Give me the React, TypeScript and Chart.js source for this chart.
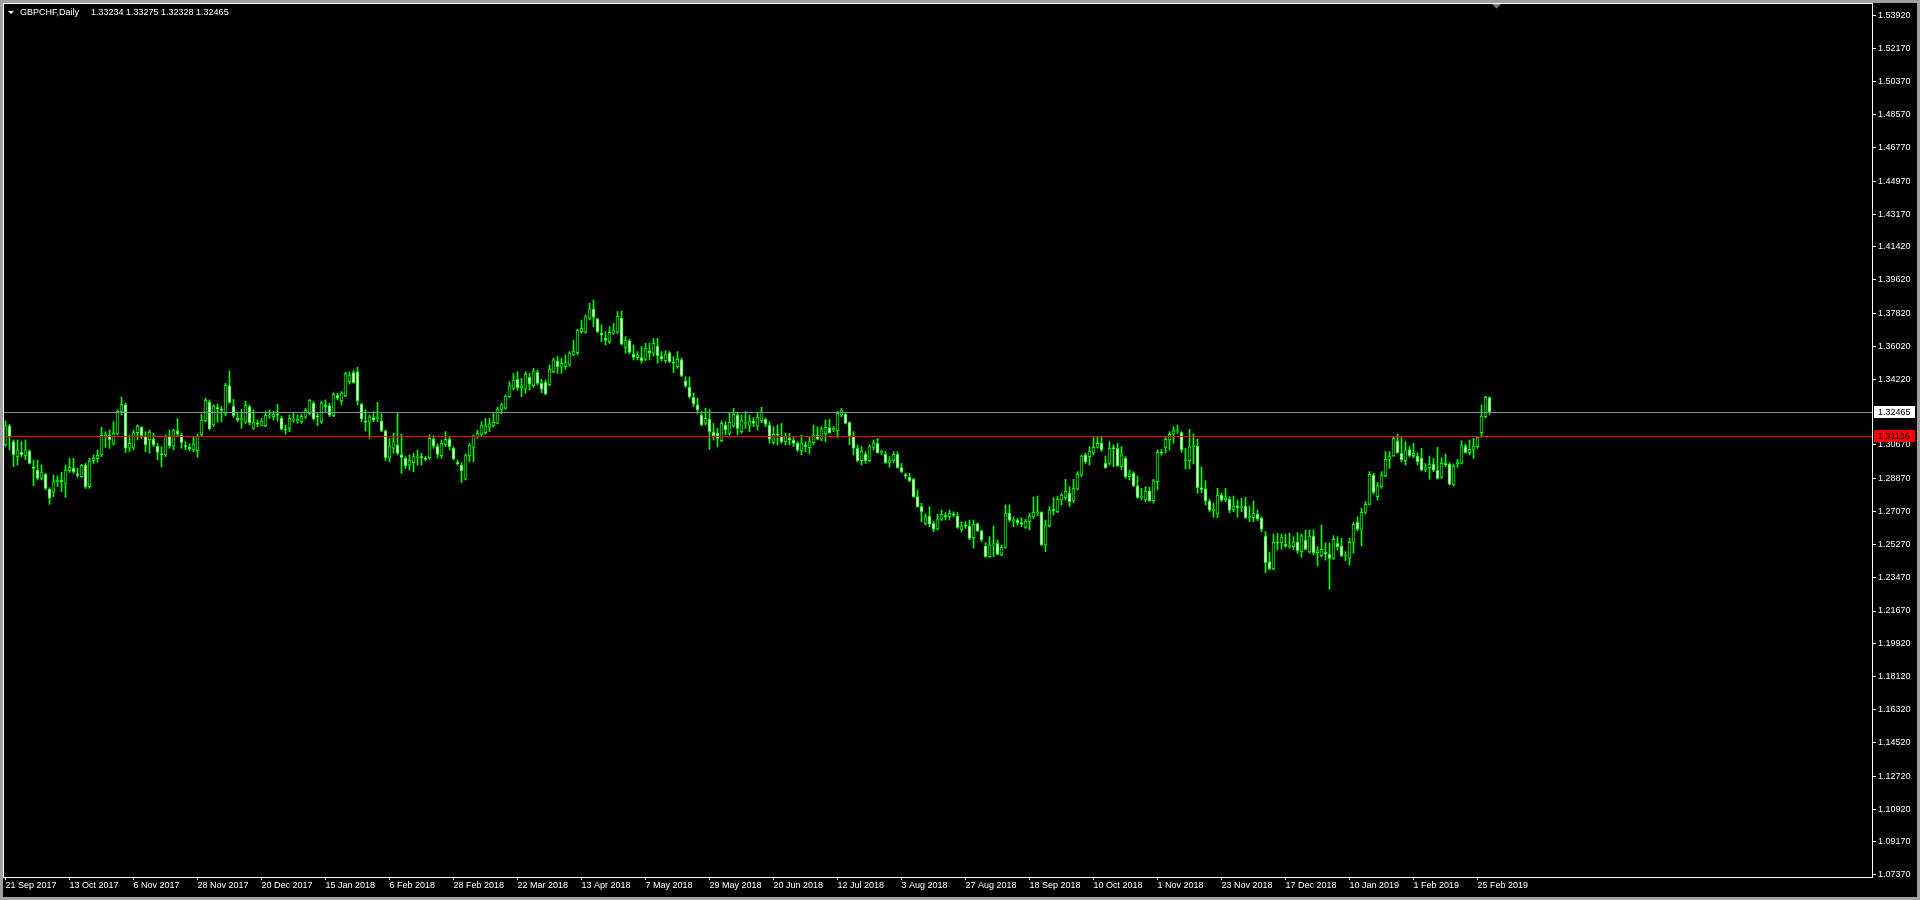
import React, { useEffect, useRef } from 'react';
import { Chart, registerables } from 'chart.js';

Chart.register(...registerables);

const symbolTitle = 'GBPCHF,Daily';
const lastBarQuote = ['1.33234', '1.33275', '1.32328', '1.32465'];
const bidPrice = 1.32465;
const hLinePrice = 1.31136;
const barsPerDateLabel = 16;

const dateLabels = [
  '21 Sep 2017', '13 Oct 2017', '6 Nov 2017', '28 Nov 2017', '20 Dec 2017', '15 Jan 2018',
  '6 Feb 2018', '28 Feb 2018', '22 Mar 2018', '13 Apr 2018', '7 May 2018', '29 May 2018',
  '20 Jun 2018', '12 Jul 2018', '3 Aug 2018', '27 Aug 2018', '18 Sep 2018', '10 Oct 2018',
  '1 Nov 2018', '23 Nov 2018', '17 Dec 2018', '10 Jan 2019', '1 Feb 2019', '25 Feb 2019',
];

const priceTicks = [
  1.5392, 1.5217, 1.5037, 1.4857, 1.4677, 1.4497, 1.4317, 1.4142, 1.3962, 1.3782, 1.3602,
  1.3422, 1.3067, 1.2887, 1.2707, 1.2527, 1.2347, 1.2167, 1.1992, 1.1812, 1.1632, 1.1452,
  1.1272, 1.1092, 1.0917, 1.0737,
];

const opens = [
  1.3067,1.3170,1.3085,1.3004,1.3027,1.3009,1.3034,1.2949,1.2931,1.2886,
  1.2908,1.2828,1.2810,1.2868,1.2875,1.2859,1.2928,1.2942,1.2906,1.2895,
  1.2957,1.2841,1.2982,1.2993,1.3013,1.3117,1.3119,1.3076,1.3125,1.3249,
  1.3284,1.3049,1.3054,1.3134,1.3163,1.3112,1.3094,1.3099,1.3061,1.3018,
  1.3013,1.3112,1.3061,1.3143,1.3121,1.3061,1.3054,1.3040,1.3036,1.3123,
  1.3199,1.3300,1.3175,1.3267,1.3260,1.3235,1.3388,1.3278,1.3211,1.3202,
  1.3190,1.3275,1.3157,1.3182,1.3173,1.3172,1.3224,1.3220,1.3231,1.3211,
  1.3152,1.3157,1.3202,1.3197,1.3193,1.3217,1.3238,1.3293,1.3222,1.3193,
  1.3280,1.3280,1.3226,1.3334,1.3307,1.3334,1.3410,1.3459,1.3463,1.3287,
  1.3195,1.3190,1.3215,1.3210,1.3197,1.3143,1.2995,1.3049,1.3067,1.3013,
  1.2995,1.2958,1.2971,1.3000,1.3004,1.2995,1.2998,1.3099,1.3061,1.3009,
  1.3070,1.3098,1.3049,1.2971,1.2958,1.2882,1.3009,1.3054,1.3112,1.3121,
  1.3134,1.3163,1.3172,1.3184,1.3257,1.3266,1.3329,1.3374,1.3423,1.3378,
  1.3370,1.3434,1.3388,1.3461,1.3401,1.3407,1.3392,1.3464,1.3522,1.3488,
  1.3491,1.3500,1.3555,1.3567,1.3681,1.3678,1.3753,1.3802,1.3750,1.3672,
  1.3645,1.3627,1.3672,1.3678,1.3753,1.3596,1.3631,1.3560,1.3540,1.3540,
  1.3531,1.3576,1.3564,1.3603,1.3549,1.3524,1.3567,1.3513,1.3491,1.3528,
  1.3414,1.3379,1.3325,1.3284,1.3229,1.3184,1.3206,1.3136,1.3130,1.3090,
  1.3175,1.3130,1.3170,1.3229,1.3139,1.3184,1.3170,1.3197,1.3170,1.3197,
  1.3206,1.3175,1.3079,1.3125,1.3112,1.3085,1.3103,1.3094,1.3076,1.3034,
  1.3067,1.3052,1.3079,1.3121,1.3099,1.3130,1.3161,1.3148,1.3145,1.3229,
  1.3235,1.3188,1.3112,1.3049,1.2982,1.3018,1.2982,1.3054,1.3076,1.3027,
  1.3016,1.2973,1.2980,1.3016,1.2944,1.2904,1.2892,1.2881,1.2787,1.2733,
  1.2642,1.2682,1.2642,1.2610,1.2664,1.2684,1.2678,1.2693,1.2682,1.2606,
  1.2631,1.2628,1.2565,1.2639,1.2601,1.2519,1.2461,1.2525,1.2534,1.2471,
  1.2512,1.2696,1.2657,1.2660,1.2646,1.2620,1.2651,1.2675,1.2700,1.2702,
  1.2525,1.2629,1.2714,1.2705,1.2769,1.2781,1.2805,1.2763,1.2828,1.2904,
  1.3013,1.3004,1.3022,1.3054,1.3076,1.2967,1.2967,1.3049,1.3049,1.2949,
  1.2995,1.2895,1.2913,1.2846,1.2783,1.2769,1.2817,1.2765,1.2868,1.3027,
  1.3054,1.3094,1.3125,1.3143,1.3134,1.2982,1.2982,1.3058,1.3061,1.2835,
  1.2830,1.2763,1.2711,1.2693,1.2796,1.2769,1.2774,1.2718,1.2736,1.2727,
  1.2736,1.2675,1.2673,1.2693,1.2669,1.2573,1.2433,1.2395,1.2539,1.2537,
  1.2530,1.2517,1.2516,1.2541,1.2489,1.2552,1.2487,1.2573,1.2483,1.2467,
  1.2485,1.2476,1.2452,1.2534,1.2519,1.2465,1.2452,1.2539,1.2648,1.2610,
  1.2702,1.2745,1.2904,1.2787,1.2841,1.2901,1.2989,1.3007,1.3088,1.3022,
  1.2982,1.3040,1.3009,1.3007,1.2995,1.2935,1.2944,1.2964,1.2931,1.2892,
  1.2966,1.2964,1.2850,1.2964,1.2967,1.3061,1.3025,1.3043,1.3058,1.3134,
  1.3220,1.33234,
];

const highs = [
  1.3197,1.3179,1.3094,1.3094,1.3085,1.3094,1.3040,1.2986,1.2986,1.2958,
  1.2913,1.2835,1.2904,1.2899,1.2919,1.2958,1.2995,1.2995,1.2940,1.2962,
  1.2967,1.2995,1.3013,1.3040,1.3163,1.3139,1.3148,1.3193,1.3257,1.3325,
  1.3293,1.3121,1.3148,1.3175,1.3166,1.3139,1.3148,1.3130,1.3076,1.3058,
  1.3121,1.3148,1.3152,1.3210,1.3130,1.3085,1.3072,1.3112,1.3126,1.3235,
  1.3320,1.3311,1.3284,1.3289,1.3275,1.3401,1.3468,1.3314,1.3242,1.3260,
  1.3305,1.3284,1.3257,1.3202,1.3211,1.3248,1.3257,1.3251,1.3287,1.3224,
  1.3175,1.3229,1.3242,1.3229,1.3235,1.3266,1.3314,1.3302,1.3238,1.3305,
  1.3311,1.3293,1.3350,1.3347,1.3356,1.3461,1.3464,1.3470,1.3488,1.3293,
  1.3257,1.3229,1.3248,1.3298,1.3235,1.3148,1.3103,1.3130,1.3242,1.3126,
  1.3004,1.3013,1.3022,1.3040,1.3022,1.3004,1.3121,1.3117,1.3072,1.3094,
  1.3139,1.3112,1.3058,1.2986,1.2971,1.3018,1.3076,1.3121,1.3148,1.3193,
  1.3211,1.3211,1.3238,1.3271,1.3293,1.3338,1.3410,1.3455,1.3464,1.3428,
  1.3464,1.3455,1.3482,1.3473,1.3423,1.3419,1.3500,1.3537,1.3546,1.3537,
  1.3555,1.3573,1.3636,1.3694,1.3744,1.3772,1.3835,1.3853,1.3753,1.3717,
  1.3681,1.3708,1.3726,1.3790,1.3793,1.3654,1.3640,1.3609,1.3573,1.3600,
  1.3618,1.3618,1.3645,1.3645,1.3573,1.3578,1.3573,1.3546,1.3573,1.3537,
  1.3437,1.3434,1.3347,1.3320,1.3248,1.3266,1.3257,1.3184,1.3157,1.3197,
  1.3193,1.3242,1.3266,1.3242,1.3229,1.3248,1.3229,1.3215,1.3238,1.3271,
  1.3211,1.3193,1.3166,1.3175,1.3184,1.3130,1.3130,1.3112,1.3085,1.3121,
  1.3085,1.3112,1.3175,1.3166,1.3166,1.3202,1.3206,1.3166,1.3248,1.3266,
  1.3238,1.3193,1.3139,1.3067,1.3058,1.3031,1.3067,1.3094,1.3103,1.3040,
  1.3031,1.3004,1.3031,1.3031,1.2967,1.2913,1.2913,1.2886,1.2823,1.2751,
  1.2693,1.2733,1.2651,1.2693,1.2714,1.2700,1.2714,1.2705,1.2700,1.2651,
  1.2651,1.2660,1.2660,1.2646,1.2606,1.2537,1.2570,1.2628,1.2552,1.2525,
  1.2742,1.2742,1.2678,1.2669,1.2673,1.2664,1.2696,1.2783,1.2790,1.2705,
  1.2660,1.2733,1.2781,1.2787,1.2805,1.2881,1.2841,1.2881,1.2922,1.3013,
  1.3022,1.3058,1.3112,1.3112,1.3112,1.3007,1.3085,1.3067,1.3076,1.3058,
  1.3004,1.2931,1.2922,1.2899,1.2832,1.2841,1.2837,1.2881,1.3040,1.3043,
  1.3112,1.3139,1.3166,1.3175,1.3139,1.3049,1.3152,1.3126,1.3098,1.2949,
  1.2873,1.2772,1.2751,1.2832,1.2805,1.2832,1.2787,1.2790,1.2769,1.2778,
  1.2783,1.2736,1.2763,1.2714,1.2678,1.2597,1.2485,1.2584,1.2588,1.2584,
  1.2584,1.2588,1.2570,1.2592,1.2584,1.2606,1.2606,1.2606,1.2516,1.2633,
  1.2537,1.2537,1.2575,1.2570,1.2561,1.2489,1.2561,1.2646,1.2678,1.2723,
  1.2760,1.2922,1.2913,1.2863,1.2922,1.3031,1.3031,1.3112,1.3126,1.3107,
  1.3085,1.3058,1.3076,1.3025,1.3049,1.2967,1.3007,1.2995,1.3054,1.2998,
  1.3018,1.2971,1.2964,1.2989,1.3090,1.3072,1.3094,1.3103,1.3112,1.3284,
  1.3332,1.33275,
];

const lows = [
  1.3061,1.3040,1.2949,1.2958,1.3004,1.2986,1.2964,1.2846,1.2877,1.2877,
  1.2823,1.2745,1.2787,1.2841,1.2814,1.2783,1.2917,1.2913,1.2892,1.2892,
  1.2832,1.2832,1.2967,1.2973,1.3004,1.3054,1.3049,1.3067,1.3121,1.3229,
  1.3025,1.3031,1.3040,1.3094,1.3103,1.3031,1.3022,1.3058,1.2986,1.2949,
  1.3004,1.3049,1.3040,1.3112,1.3049,1.3040,1.3036,1.3031,1.3000,1.3112,
  1.3193,1.3148,1.3166,1.3190,1.3193,1.3224,1.3293,1.3217,1.3193,1.3157,
  1.3184,1.3175,1.3152,1.3166,1.3170,1.3166,1.3211,1.3202,1.3197,1.3148,
  1.3126,1.3139,1.3190,1.3184,1.3184,1.3211,1.3229,1.3202,1.3172,1.3184,
  1.3242,1.3220,1.3220,1.3311,1.3284,1.3329,1.3397,1.3401,1.3284,1.3193,
  1.3143,1.3103,1.3193,1.3193,1.3139,1.2982,1.2976,1.3022,1.3013,1.2913,
  1.2940,1.2931,1.2922,1.2958,1.2958,1.2982,1.2989,1.3049,1.2995,1.2995,
  1.3058,1.3040,1.2986,1.2958,1.2863,1.2877,1.2976,1.2976,1.3103,1.3112,
  1.3126,1.3139,1.3163,1.3181,1.3235,1.3260,1.3325,1.3365,1.3365,1.3329,
  1.3347,1.3365,1.3379,1.3392,1.3350,1.3338,1.3388,1.3459,1.3455,1.3455,
  1.3477,1.3495,1.3551,1.3555,1.3672,1.3672,1.3744,1.3708,1.3676,1.3627,
  1.3609,1.3618,1.3667,1.3672,1.3609,1.3564,1.3560,1.3528,1.3528,1.3510,
  1.3524,1.3528,1.3549,1.3510,1.3524,1.3513,1.3513,1.3459,1.3482,1.3437,
  1.3379,1.3320,1.3275,1.3238,1.3170,1.3175,1.3043,1.3094,1.3058,1.3085,
  1.3121,1.3121,1.3163,1.3121,1.3130,1.3157,1.3139,1.3166,1.3148,1.3188,
  1.3166,1.3076,1.3072,1.3067,1.3076,1.3067,1.3067,1.3058,1.3031,1.3013,
  1.3031,1.3018,1.3067,1.3094,1.3090,1.3085,1.3130,1.3139,1.3107,1.3220,
  1.3181,1.3067,1.3013,1.2976,1.2958,1.2967,1.2976,1.3040,1.3022,1.3013,
  1.2967,1.2946,1.2971,1.2940,1.2917,1.2886,1.2868,1.2783,1.2729,1.2651,
  1.2633,1.2624,1.2597,1.2606,1.2657,1.2660,1.2660,1.2678,1.2615,1.2597,
  1.2615,1.2552,1.2507,1.2597,1.2543,1.2458,1.2458,1.2461,1.2471,1.2467,
  1.2507,1.2651,1.2624,1.2633,1.2624,1.2615,1.2606,1.2669,1.2684,1.2521,
  1.2489,1.2624,1.2687,1.2700,1.2742,1.2769,1.2733,1.2754,1.2823,1.2895,
  1.2967,1.2958,1.3013,1.3049,1.3031,1.2940,1.2958,1.2949,1.2949,1.2935,
  1.2886,1.2877,1.2841,1.2778,1.2769,1.2760,1.2760,1.2751,1.2823,1.3013,
  1.3022,1.3040,1.3076,1.3130,1.3027,1.2937,1.2937,1.2964,1.2805,1.2808,
  1.2742,1.2705,1.2675,1.2673,1.2760,1.2760,1.2700,1.2705,1.2675,1.2705,
  1.2669,1.2651,1.2651,1.2657,1.2597,1.2375,1.2389,1.2389,1.2498,1.2501,
  1.2512,1.2507,1.2501,1.2480,1.2458,1.2498,1.2480,1.2471,1.2411,1.2461,
  1.2443,1.2284,1.2447,1.2498,1.2461,1.2440,1.2416,1.2480,1.2602,1.2521,
  1.2693,1.2742,1.2801,1.2769,1.2832,1.2895,1.2940,1.3004,1.3022,1.2976,
  1.2958,1.3004,1.2998,1.2958,1.2926,1.2922,1.2882,1.2922,1.2882,1.2886,
  1.2949,1.2850,1.2845,1.2946,1.2964,1.3022,1.3013,1.2995,1.3049,1.3108,
  1.3215,1.32328,
];

const closes = [
  1.3170,1.3112,1.3013,1.3040,1.3013,1.3040,1.2967,1.2940,1.2886,1.2917,
  1.2832,1.2778,1.2868,1.2875,1.2868,1.2931,1.2946,1.2922,1.2902,1.2957,
  1.2841,1.2980,1.2996,1.3011,1.3119,1.3123,1.3094,1.3130,1.3249,1.3287,
  1.3049,1.3076,1.3134,1.3168,1.3116,1.3067,1.3137,1.3067,1.3027,1.3014,
  1.3112,1.3063,1.3145,1.3126,1.3081,1.3058,1.3047,1.3072,1.3117,1.3202,
  1.3309,1.3154,1.3278,1.3264,1.3255,1.3390,1.3298,1.3226,1.3202,1.3210,
  1.3282,1.3188,1.3191,1.3179,1.3197,1.3228,1.3226,1.3233,1.3228,1.3152,
  1.3148,1.3211,1.3205,1.3206,1.3222,1.3255,1.3309,1.3208,1.3219,1.3295,
  1.3276,1.3229,1.3341,1.3320,1.3350,1.3453,1.3443,1.3405,1.3305,1.3208,
  1.3191,1.3219,1.3202,1.3211,1.3143,1.2998,1.3061,1.3085,1.3022,1.3000,
  1.2955,1.2984,1.3004,1.3007,1.2998,1.2989,1.3103,1.3061,1.3016,1.3076,
  1.3098,1.3058,1.2991,1.2966,1.2928,1.3009,1.3067,1.3117,1.3130,1.3175,
  1.3170,1.3181,1.3190,1.3262,1.3284,1.3332,1.3387,1.3419,1.3378,1.3387,
  1.3450,1.3397,1.3468,1.3401,1.3370,1.3343,1.3477,1.3528,1.3491,1.3510,
  1.3513,1.3567,1.3576,1.3690,1.3699,1.3762,1.3804,1.3759,1.3681,1.3663,
  1.3634,1.3678,1.3690,1.3766,1.3613,1.3636,1.3569,1.3542,1.3555,1.3524,
  1.3591,1.3567,1.3618,1.3551,1.3533,1.3560,1.3519,1.3510,1.3531,1.3443,
  1.3387,1.3329,1.3289,1.3257,1.3175,1.3211,1.3139,1.3117,1.3103,1.3184,
  1.3148,1.3190,1.3235,1.3157,1.3202,1.3190,1.3197,1.3184,1.3217,1.3244,
  1.3179,1.3098,1.3125,1.3121,1.3085,1.3112,1.3094,1.3076,1.3040,1.3079,
  1.3058,1.3085,1.3121,1.3099,1.3154,1.3163,1.3134,1.3157,1.3238,1.3257,
  1.3184,1.3116,1.3049,1.2982,1.3034,1.2982,1.3058,1.3079,1.3025,1.3031,
  1.2971,1.2986,1.3016,1.2944,1.2922,1.2899,1.2873,1.2787,1.2733,1.2705,
  1.2678,1.2637,1.2610,1.2666,1.2691,1.2678,1.2696,1.2687,1.2620,1.2628,
  1.2628,1.2561,1.2637,1.2601,1.2552,1.2461,1.2525,1.2530,1.2474,1.2512,
  1.2696,1.2660,1.2660,1.2646,1.2637,1.2655,1.2682,1.2702,1.2704,1.2525,
  1.2633,1.2714,1.2711,1.2772,1.2796,1.2817,1.2760,1.2832,1.2908,1.3007,
  1.2976,1.3034,1.3054,1.3076,1.3040,1.2944,1.3049,1.3047,1.2955,1.3013,
  1.2895,1.2910,1.2846,1.2783,1.2787,1.2817,1.2765,1.2872,1.3027,1.3022,
  1.3098,1.3125,1.3143,1.3148,1.3040,1.2986,1.3058,1.3061,1.2835,1.2826,
  1.2763,1.2714,1.2720,1.2796,1.2769,1.2779,1.2714,1.2736,1.2727,1.2733,
  1.2673,1.2680,1.2696,1.2666,1.2610,1.2429,1.2395,1.2539,1.2537,1.2568,
  1.2519,1.2519,1.2541,1.2492,1.2575,1.2501,1.2573,1.2483,1.2494,1.2501,
  1.2476,1.2452,1.2555,1.2516,1.2467,1.2469,1.2539,1.2637,1.2610,1.2702,
  1.2745,1.2908,1.2810,1.2845,1.2901,1.2989,1.3007,1.3103,1.3025,1.2986,
  1.3040,1.3009,1.3022,1.2976,1.2931,1.2942,1.2964,1.2931,1.2886,1.2967,
  1.2960,1.2854,1.2953,1.2976,1.3067,1.3025,1.3043,1.3061,1.3107,1.3224,
  1.3325,1.32465,
];

const FONT = '"Liberation Sans", Arial, sans-serif';
const LIME = '#00ff00';

const mtPlugin = {
  id: 'mtDecor',
  beforeDraw(chart: any) {
    const { ctx, width, height } = chart;
    ctx.save();
    ctx.fillStyle = '#a0a0a0';
    ctx.fillRect(0, 0, width, height);
    ctx.fillStyle = '#000000';
    ctx.fillRect(3, 3, width - 6, height - 6);
    ctx.restore();
  },
  afterDatasetsDraw(chart: any) {
    const { ctx, chartArea: a } = chart;
    const ys = chart.scales.y;
    ctx.save();
    ctx.lineWidth = 1;
    const lines: [number, string][] = [[bidPrice, '#7f8fa0'], [hLinePrice, '#ff0000']];
    lines.forEach(([p, c]) => {
      const y = Math.round(ys.getPixelForValue(p)) + 0.5;
      ctx.strokeStyle = c;
      ctx.beginPath();
      ctx.moveTo(a.left, y);
      ctx.lineTo(a.right, y);
      ctx.stroke();
    });
    ctx.restore();
  },
  afterDraw(chart: any) {
    const { ctx, chartArea: a } = chart;
    const ys = chart.scales.y;
    ctx.save();
    // frame
    ctx.strokeStyle = '#ffffff';
    ctx.lineWidth = 1;
    ctx.strokeRect(Math.round(a.left) - 0.5, Math.round(a.top) - 0.5,
      Math.round(a.right - a.left) + 1, Math.round(a.bottom - a.top) + 1);
    // price boxes
    ctx.font = `9px ${FONT}`;
    ctx.textBaseline = 'middle';
    ctx.textAlign = 'left';
    const boxes: [number, string, string][] = [[bidPrice, '#ffffff', '#000000'], [hLinePrice, '#ff0000', '#000000']];
    boxes.forEach(([p, bg, fg]) => {
      const y = Math.round(ys.getPixelForValue(p));
      ctx.fillStyle = bg;
      ctx.fillRect(Math.round(a.right) + 2, y - 6, 41, 12);
      ctx.fillStyle = fg;
      ctx.fillText(p.toFixed(5), Math.round(a.right) + 6, y + 0.5);
    });
    // title
    ctx.fillStyle = '#ffffff';
    ctx.beginPath();
    ctx.moveTo(8, 11);
    ctx.lineTo(14, 11);
    ctx.lineTo(11, 14);
    ctx.closePath();
    ctx.fill();
    ctx.fillText(symbolTitle, 20, 13);
    ctx.fillText(lastBarQuote.join(' '), 91, 13);
    // chart shift marker
    ctx.fillStyle = '#808080';
    ctx.beginPath();
    ctx.moveTo(1492, 4);
    ctx.lineTo(1501, 4);
    ctx.lineTo(1496.5, 8.5);
    ctx.closePath();
    ctx.fill();
    ctx.restore();
  },
};

export default function App() {
  const ref = useRef<HTMLCanvasElement>(null);
  useEffect(() => {
    document.body.style.margin = '0';
    document.body.style.background = '#a0a0a0';
    const bodies = closes.map((c, i) => ({ x: i, y: [opens[i], c] }));
    const wicks = highs.map((h, i) => ({ x: i, y: [lows[i], h] }));
    const bodyFill = closes.map((c, i) => (c < opens[i] ? '#ffffff' : '#000000'));
    const chart = new Chart(ref.current as HTMLCanvasElement, {
      type: 'bar',
      data: {
        datasets: [
          {
            data: bodies as any,
            backgroundColor: bodyFill,
            borderColor: LIME,
            borderWidth: 1,
            borderSkipped: false,
            barThickness: 3,
            minBarLength: 1,
            grouped: false,
          } as any,
          {
            data: wicks as any,
            backgroundColor: LIME,
            borderWidth: 0,
            barThickness: 1,
            grouped: false,
          } as any,
        ],
      },
      options: {
        animation: false,
        responsive: false,
        devicePixelRatio: 1,
        events: [],
        layout: { padding: { left: 4, top: 4, right: 3, bottom: 3 } },
        plugins: { legend: { display: false }, tooltip: { enabled: false }, title: { display: false } },
        scales: {
          x: {
            type: 'linear',
            min: -0.375,
            max: 466.625,
            offset: false,
            afterBuildTicks: (s: any) => {
              s.ticks = dateLabels.map((_, k) => ({ value: k * barsPerDateLabel }));
            },
            afterFit: (s: any) => {
              s.height = 20;
              s.paddingLeft = 0;
              s.paddingRight = 0;
            },
            ticks: {
              autoSkip: false,
              maxRotation: 0,
              align: 'start',
              padding: 0,
              color: '#ffffff',
              font: { family: FONT, size: 9 },
              callback: (v: any) => dateLabels[Math.round(Number(v) / barsPerDateLabel)] ?? '',
            },
            grid: { display: true, drawOnChartArea: false, drawTicks: true, tickLength: 3, color: '#ffffff', offset: false },
            border: { display: false },
          } as any,
          y: {
            type: 'linear',
            position: 'right',
            min: 1.07253,
            max: 1.5457,
            beginAtZero: false,
            afterBuildTicks: (s: any) => {
              s.ticks = priceTicks.map((v) => ({ value: v }));
            },
            afterFit: (s: any) => {
              s.width = 45;
              s.paddingTop = 0;
              s.paddingBottom = 0;
            },
            ticks: {
              autoSkip: false,
              padding: 2,
              color: '#ffffff',
              font: { family: FONT, size: 9 },
              callback: (v: any) => Number(v).toFixed(5),
            },
            grid: { display: true, drawOnChartArea: false, drawTicks: true, tickLength: 4, color: '#ffffff' },
            border: { display: false },
          } as any,
        },
      } as any,
      plugins: [mtPlugin],
    });
    return () => chart.destroy();
  }, []);
  return (
    <div style={{ position: 'fixed', left: 0, top: 0, width: 1920, height: 900 }}>
      <canvas ref={ref} width={1920} height={900} style={{ width: 1920, height: 900, display: 'block' }} />
    </div>
  );
}
